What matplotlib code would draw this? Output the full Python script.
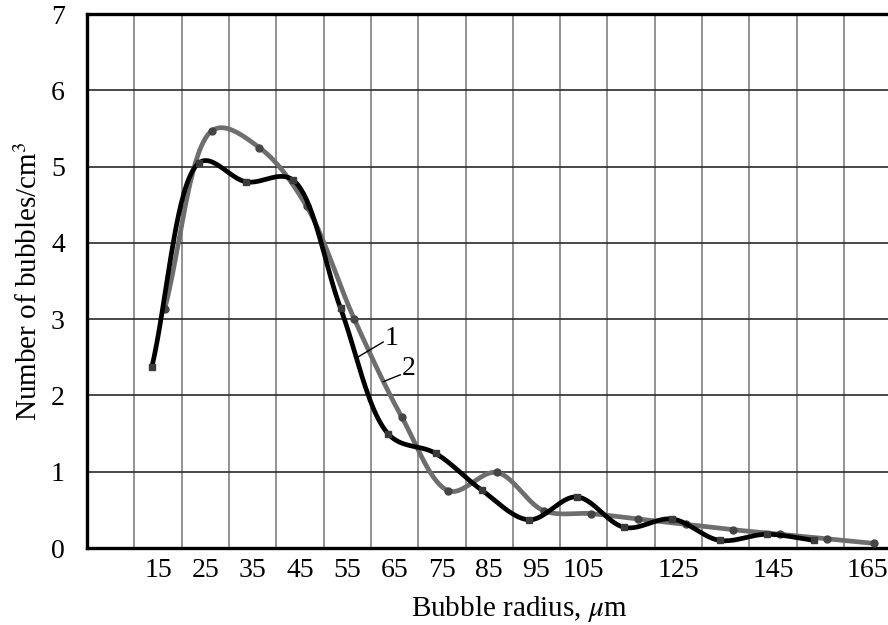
import matplotlib
matplotlib.use("Agg")
import matplotlib.pyplot as plt
import numpy as np

# curve 1 (black, square markers)
r1 = [13.7, 23.7, 33.6, 43.6, 53.6, 63.6, 73.7, 83.4, 93.4, 103.5, 113.6, 123.7, 133.7, 143.7, 153.6]
n1 = [2.37, 5.05, 4.80, 4.82, 3.14, 1.50, 1.24, 0.76, 0.37, 0.67, 0.27, 0.38, 0.10, 0.18, 0.10]

# curve 2 (grey, round markers)
r2 = [16.4, 26.4, 36.4, 46.4, 56.5, 66.5, 76.4, 86.6, 96.5, 106.6, 116.5, 126.5, 136.5, 146.5, 156.5, 166.4]
n2 = [3.13, 5.47, 5.25, 4.48, 3.00, 1.72, 0.75, 0.99, 0.49, 0.45, 0.38, 0.31, 0.24, 0.18, 0.12, 0.06]

xticks = [15, 25, 35, 45, 55, 65, 75, 85, 95, 105, 125, 145, 165]
yticks = [0, 1, 2, 3, 4, 5, 6, 7]


def smooth(ax, x, y, alpha=0.4, n=40):
    # centripetal Catmull-Rom drawn in screen space (smoothed line)
    pts = ax.transData.transform(np.column_stack([x, y]))
    pts = np.vstack([2 * pts[0] - pts[1], pts, 2 * pts[-1] - pts[-2]])
    out = []
    for i in range(1, len(pts) - 2):
        P0, P1, P2, P3 = pts[i - 1], pts[i], pts[i + 1], pts[i + 2]
        t0 = 0.0
        t1 = t0 + np.linalg.norm(P1 - P0) ** alpha
        t2 = t1 + np.linalg.norm(P2 - P1) ** alpha
        t3 = t2 + np.linalg.norm(P3 - P2) ** alpha
        t = np.linspace(t1, t2, n)[:, None]
        A1 = (t1 - t) / (t1 - t0) * P0 + (t - t0) / (t1 - t0) * P1
        A2 = (t2 - t) / (t2 - t1) * P1 + (t - t1) / (t2 - t1) * P2
        A3 = (t3 - t) / (t3 - t2) * P2 + (t - t2) / (t3 - t2) * P3
        B1 = (t2 - t) / (t2 - t0) * A1 + (t - t0) / (t2 - t0) * A2
        B2 = (t3 - t) / (t3 - t1) * A2 + (t - t1) / (t3 - t1) * A3
        out.append((t2 - t) / (t2 - t1) * B1 + (t - t1) / (t2 - t1) * B2)
    xy = ax.transData.inverted().transform(np.vstack(out))
    return xy[:, 0], xy[:, 1]


plt.rcParams['font.family'] = ['Liberation Serif', 'DejaVu Serif']
plt.rcParams['mathtext.fontset'] = 'stix'

fig = plt.figure(figsize=(8.88, 6.25), dpi=100)
ax = fig.add_axes([0.098, 0.1232, 0.902, 0.8544])

ax.set_xlim(0, 169.3)
ax.set_ylim(0, 7)

# grid
for gx in np.arange(10, 170, 10):
    ax.axvline(gx, color='#8a8a8a', lw=1.3, zorder=1)
for gy in range(1, 7):
    ax.axhline(gy, color='#2a2a2a', lw=1.2, zorder=1)

sx, sy = smooth(ax, r2, n2)
ax.plot(sx, sy, color='#6e6e6e', lw=3.4, zorder=3, solid_capstyle='round')
ax.plot(r2, n2, 'o', color='#454545', ms=5, zorder=4)

sx, sy = smooth(ax, r1, n1)
ax.plot(sx, sy, color='black', lw=3.4, zorder=5, solid_capstyle='round')
ax.plot(r1, n1, 's', color='#3a3a3a', ms=5, zorder=6)

# curve labels
ax.plot([56.9, 62.6], [2.49, 2.70], color='black', lw=1.0, zorder=7)
ax.text(63.0, 2.75, '1', fontsize=20, va='center', ha='left', zorder=7)
ax.plot([62.6, 66.2], [2.18, 2.27], color='black', lw=1.0, zorder=7)
ax.text(66.6, 2.35, '2', fontsize=20, va='center', ha='left', zorder=7)

ax.set_xticks(xticks)
ax.set_yticks(yticks)
ax.tick_params(length=0, labelsize=20, colors='black')
ax.tick_params(axis='x', pad=7)
ax.tick_params(axis='y', pad=16)

for side in ['left', 'bottom', 'top']:
    ax.spines[side].set_linewidth(2.4)
    ax.spines[side].set_color('black')
ax.spines['right'].set_visible(False)

ax.set_xlabel('Bubble radius, $\\mu$m', fontsize=21)
ax.xaxis.set_label_coords(0.54, -0.087)
ax.set_ylabel('Number of bubbles/cm$^3$', fontsize=21, labelpad=6)

fig.savefig('out.png', dpi=100)
